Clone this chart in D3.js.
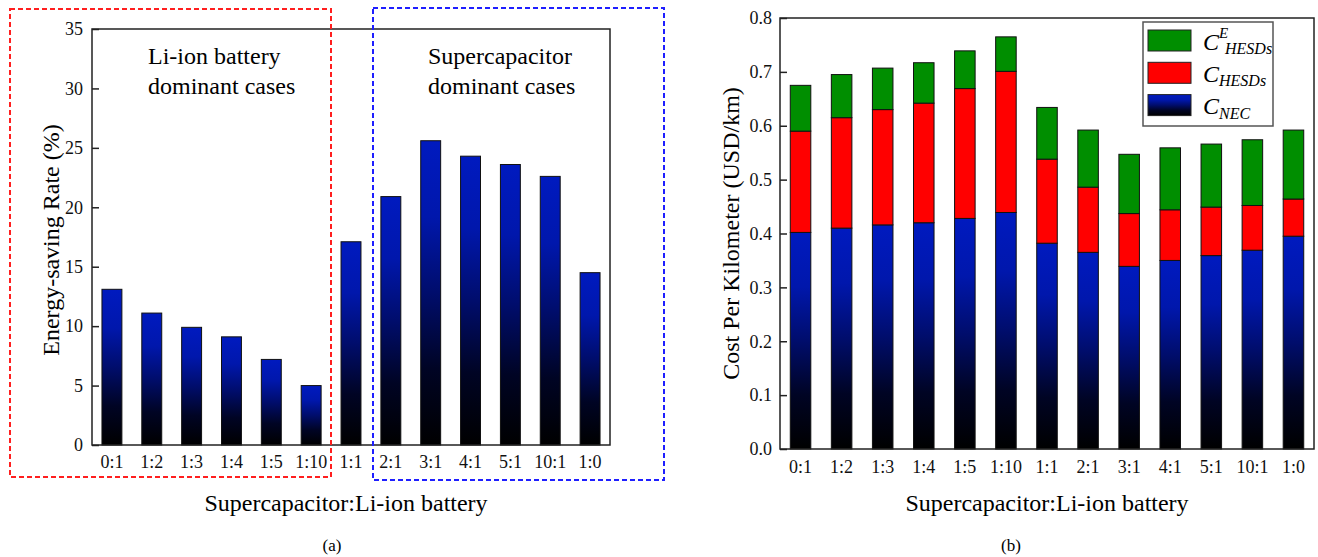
<!DOCTYPE html>
<html>
<head>
<meta charset="utf-8">
<script src="https://cdn.jsdelivr.net/npm/d3@7"></script>
<style>
  html, body { margin: 0; padding: 0; background: #fff; }
  svg { display: block; font-family: "Liberation Serif", "Times New Roman", serif; }
</style>
</head>
<body>
<svg id="chart" width="1318" height="557"></svg>
<script>
// Storage ratio (supercapacitor : Li-ion battery) cases
const ratios = ["0:1", "1:2", "1:3", "1:4", "1:5", "1:10", "1:1", "2:1", "3:1", "4:1", "5:1", "10:1", "1:0"];

// (a) energy-saving rate, %
const energySaving = [13.1, 11.1, 9.9, 9.1, 7.2, 5.0, 17.1, 20.9, 25.6, 24.3, 23.6, 22.6, 14.5];

// (b) cost per kilometer components, USD/km
const costNEC   = [0.402, 0.410, 0.416, 0.420, 0.428, 0.439, 0.382, 0.365, 0.339, 0.350, 0.359, 0.369, 0.395];
const costHESDs = [0.188, 0.205, 0.214, 0.222, 0.241, 0.262, 0.156, 0.121, 0.098, 0.094, 0.090, 0.083, 0.069];
const costEHESDs = [0.085, 0.080, 0.077, 0.075, 0.070, 0.064, 0.096, 0.106, 0.110, 0.115, 0.117, 0.122, 0.128];

const ticksA = [0, 5, 10, 15, 20, 25, 30, 35];
const ticksB = [0.0, 0.1, 0.2, 0.3, 0.4, 0.5, 0.6, 0.7, 0.8];

const svg = d3.select("#chart");

// Vertical blue-to-black fill used for the base bars
const defs = svg.append("defs");
const grad = defs.append("linearGradient")
  .attr("id", "blueBlack")
  .attr("x1", 0).attr("y1", 0).attr("x2", 0).attr("y2", 1);
[[0, "#001ABF"], [0.25, "#0017AC"], [0.5, "#000D6C"], [0.75, "#000424"], [1, "#000000"]]
  .forEach(([o, c]) => grad.append("stop").attr("offset", o).attr("stop-color", c));

const tickFont = 18;
const titleFont = 24;

function frame(g, x0, x1, y0, y1) {
  g.append("rect")
    .attr("x", x0).attr("y", y1)
    .attr("width", x1 - x0).attr("height", y0 - y1)
    .attr("fill", "none").attr("stroke", "#222").attr("stroke-width", 1.5);
}

function styleAxis(g) {
  g.select(".domain").remove();
  g.selectAll(".tick line").attr("stroke", "#222").attr("stroke-width", 1.5);
  g.selectAll(".tick text")
    .attr("fill", "#111")
    .style("font-family", '"Liberation Serif", serif')
    .style("font-size", tickFont + "px");
}

// ---------- Panel (a) ----------
const A = { left: 92, right: 610, top: 29, bottom: 445 };
const xA = d3.scaleBand().domain(ratios).range([A.left, A.right]).paddingInner(0.5).paddingOuter(0.25);
const yA = d3.scaleLinear().domain([0, 35]).range([A.bottom, A.top]);
const gA = svg.append("g");

gA.append("g").selectAll("rect")
  .data(ratios)
  .join("rect")
  .attr("x", d => xA(d))
  .attr("width", xA.bandwidth())
  .attr("y", (d, i) => yA(energySaving[i]))
  .attr("height", (d, i) => yA(0) - yA(energySaving[i]))
  .attr("fill", "url(#blueBlack)")
  .attr("stroke", "#111").attr("stroke-width", 1);

gA.append("g").attr("transform", `translate(${A.left},0)`)
  .call(d3.axisLeft(yA).tickValues(ticksA).tickFormat(d3.format("d")).tickSizeInner(-7).tickSizeOuter(0).tickPadding(9))
  .call(styleAxis);

gA.append("g").attr("transform", `translate(0,${A.bottom})`)
  .call(d3.axisBottom(xA).tickSize(0).tickPadding(10))
  .call(styleAxis);

frame(gA, A.left, A.right, A.bottom, A.top);

gA.append("text")
  .attr("transform", `translate(59,${(A.top + A.bottom) / 2 + 3}) rotate(-90)`)
  .attr("text-anchor", "middle")
  .style("font-size", titleFont + "px")
  .text("Energy-saving Rate (%)");

gA.append("text")
  .attr("x", 346).attr("y", 511)
  .attr("text-anchor", "middle")
  .style("font-size", titleFont + "px")
  .text("Supercapacitor:Li-ion battery");

gA.append("text")
  .attr("x", 332).attr("y", 551)
  .attr("text-anchor", "middle")
  .style("font-size", "17px")
  .text("(a)");

// Region annotations
const noteA = gA.append("text").style("font-size", "24px");
noteA.append("tspan").attr("x", 148).attr("y", 64).text("Li-ion battery");
noteA.append("tspan").attr("x", 148).attr("y", 94).text("dominant cases");
const noteB = gA.append("text").style("font-size", "24px");
noteB.append("tspan").attr("x", 428).attr("y", 64).text("Supercapacitor");
noteB.append("tspan").attr("x", 428).attr("y", 94).text("dominant cases");

// Dashed group outlines
gA.append("rect")
  .attr("x", 10).attr("y", 9).attr("width", 321).attr("height", 468)
  .attr("fill", "none").attr("stroke", "#FF1F1F").attr("stroke-width", 2)
  .attr("stroke-dasharray", "5,3");
gA.append("rect")
  .attr("x", 373).attr("y", 8).attr("width", 291).attr("height", 472)
  .attr("fill", "none").attr("stroke", "#1F1FFF").attr("stroke-width", 2)
  .attr("stroke-dasharray", "5,3");

// ---------- Panel (b) ----------
const B = { left: 780, right: 1314, top: 18, bottom: 449 };
const xB = d3.scaleBand().domain(ratios).range([B.left, B.right]).paddingInner(0.5).paddingOuter(0.25);
const yB = d3.scaleLinear().domain([0, 0.8]).range([B.bottom, B.top]);
const gB = svg.append("g");

const stackRows = ratios.map((r, i) => ({ ratio: r, nec: costNEC[i], hesds: costHESDs[i], ehesds: costEHESDs[i] }));
const stack = d3.stack().keys(["nec", "hesds", "ehesds"])(stackRows);
const fills = { nec: "url(#blueBlack)", hesds: "#FF0000", ehesds: "#008E00" };

gB.append("g").selectAll("g")
  .data(stack)
  .join("g")
  .attr("fill", d => fills[d.key])
  .selectAll("rect")
  .data(d => d)
  .join("rect")
  .attr("x", d => xB(d.data.ratio))
  .attr("width", xB.bandwidth())
  .attr("y", d => yB(d[1]))
  .attr("height", d => yB(d[0]) - yB(d[1]))
  .attr("stroke", "#111").attr("stroke-width", 1);

gB.append("g").attr("transform", `translate(${B.left},0)`)
  .call(d3.axisLeft(yB).tickValues(ticksB).tickFormat(d3.format(".1f")).tickSizeInner(-7).tickSizeOuter(0).tickPadding(8))
  .call(styleAxis);

gB.append("g").attr("transform", `translate(0,${B.bottom})`)
  .call(d3.axisBottom(xB).tickSize(0).tickPadding(11))
  .call(styleAxis);

frame(gB, B.left, B.right, B.bottom, B.top);

gB.append("text")
  .attr("transform", `translate(739,${(B.top + B.bottom) / 2}) rotate(-90)`)
  .attr("text-anchor", "middle")
  .style("font-size", titleFont + "px")
  .text("Cost Per Kilometer (USD/km)");

gB.append("text")
  .attr("x", 1047).attr("y", 511)
  .attr("text-anchor", "middle")
  .style("font-size", titleFont + "px")
  .text("Supercapacitor:Li-ion battery");

gB.append("text")
  .attr("x", 1011).attr("y", 551)
  .attr("text-anchor", "middle")
  .style("font-size", "17px")
  .text("(b)");

// Legend
const legend = gB.append("g");
legend.append("rect")
  .attr("x", 1143).attr("y", 22).attr("width", 130).attr("height", 104)
  .attr("fill", "#fff").attr("stroke", "#555").attr("stroke-width", 1.5);

const legendItems = [
  { fill: fills.ehesds, sub: "HESDs", sup: "E", subX: 1225 },
  { fill: fills.hesds, sub: "HESDs", sup: null, subX: 1219 },
  { fill: fills.nec, sub: "NEC", sup: null, subX: 1219 }
];
legendItems.forEach((it, i) => {
  const y0 = 30 + i * 32.3;
  legend.append("rect")
    .attr("x", 1148).attr("y", y0).attr("width", 43).attr("height", 21)
    .attr("fill", it.fill).attr("stroke", "#222").attr("stroke-width", 1);
  legend.append("text")
    .attr("x", 1203).attr("y", y0 + 19.5)
    .style("font-size", "24px").style("font-style", "italic")
    .text("C");
  legend.append("text")
    .attr("x", it.subX).attr("y", y0 + 24)
    .style("font-size", "16px").style("font-style", "italic")
    .text(it.sub);
  if (it.sup) {
    legend.append("text")
      .attr("x", 1219).attr("y", y0 + 8)
      .style("font-size", "15px").style("font-style", "italic")
      .text(it.sup);
  }
});
</script>
</body>
</html>
